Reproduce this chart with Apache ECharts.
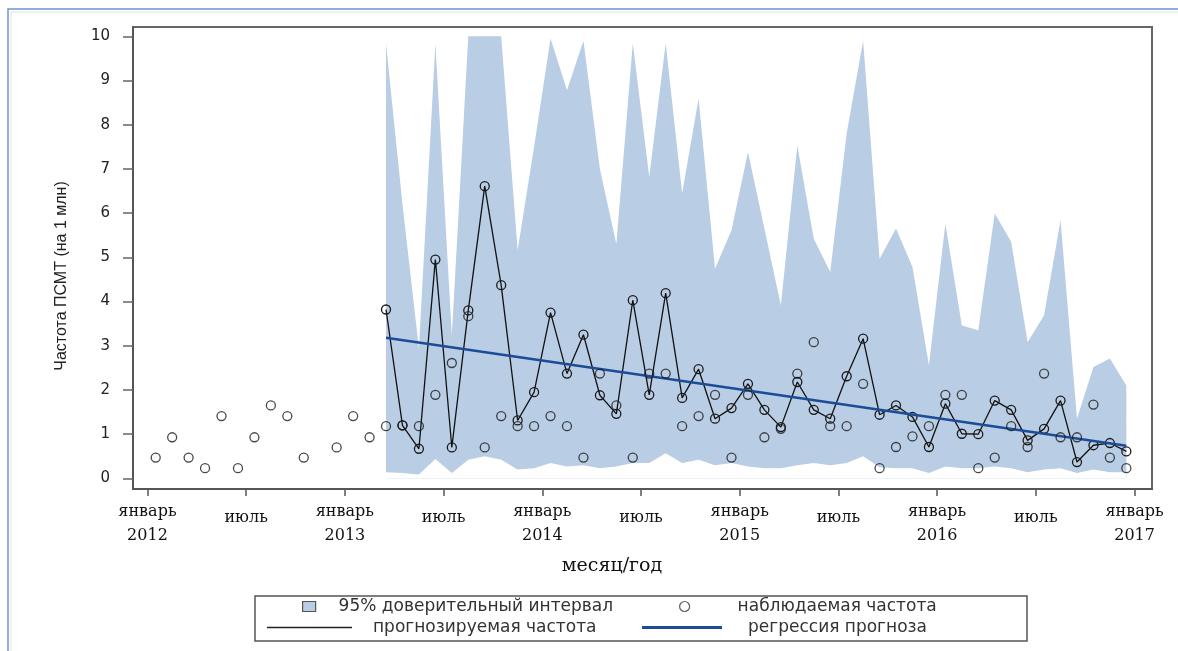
<!DOCTYPE html>
<html>
<head>
<meta charset="utf-8">
<script src="https://cdn.jsdelivr.net/npm/echarts@6/dist/echarts.min.js"></script>
<style>
  html, body { margin: 0; padding: 0; background: #fff; }
  #grafico { width: 1178px; height: 651px; }
</style>
</head>
<body>
<div id="grafico"></div>
<script>
// datos: indice = meses desde enero 2012, el punto va a mitad de mes
var observada = [0.47, 0.93, 0.47, 0.23, 1.41, 0.23, 0.93, 1.65, 1.41, 0.47, null, 0.70,
    1.41, 0.93, 1.18, 1.20, 1.18, 1.89, 2.61, 3.67, 0.70, 1.41, 1.18, 1.18,
    1.41, 1.18, 0.47, 2.37, 1.65, 0.47, 2.37, 2.37, 1.18, 1.41, 1.89, 0.47,
    1.89, 0.93, 1.12, 2.37, 3.08, 1.18, 1.18, 2.14, 0.23, 0.71, 0.95, 1.18,
    1.89, 1.89, 0.23, 0.47, 1.18, 0.71, 2.37, 0.93, 0.93, 1.67, 0.47, 0.23];

// pronostico desde el mes 14 (marzo 2013)
var inicioPronostico = 14;
var pronostico = [3.82, 1.20, 0.67, 4.95, 0.70, 3.80, 6.61, 4.37, 1.31, 1.95,
    3.75, 2.37, 3.25, 1.88, 1.46, 4.03, 1.89, 4.19, 1.82, 2.47,
    1.35, 1.59, 2.14, 1.55, 1.16, 2.18, 1.55, 1.35, 2.31, 3.16,
    1.44, 1.65, 1.39, 0.71, 1.69, 1.01, 1.00, 1.76, 1.55, 0.86,
    1.12, 1.76, 0.37, 0.75, 0.80, 0.61];
var limiteInferior = [0.14, 0.12, 0.09, 0.44, 0.12, 0.42, 0.50, 0.42, 0.20, 0.23,
    0.35, 0.27, 0.30, 0.23, 0.27, 0.35, 0.35, 0.57, 0.35, 0.42,
    0.30, 0.35, 0.27, 0.23, 0.23, 0.30, 0.35, 0.30, 0.35, 0.50,
    0.25, 0.23, 0.23, 0.12, 0.27, 0.23, 0.23, 0.27, 0.23, 0.14,
    0.20, 0.23, 0.12, 0.20, 0.14, 0.14];
var limiteSuperior = [9.83, 6.20, 2.94, 9.83, 3.24, 10.0, 10.0, 10.0, 5.16, 7.50,
    9.95, 8.78, 9.90, 7.00, 5.30, 9.84, 6.82, 9.84, 6.45, 8.59,
    4.74, 5.61, 7.38, 5.65, 3.91, 7.53, 5.42, 4.67, 7.80, 9.90,
    4.97, 5.65, 4.78, 2.56, 5.76, 3.46, 3.35, 5.99, 5.35, 3.08,
    3.69, 5.84, 1.35, 2.52, 2.71, 2.10];
// recta de regresion: valores en el primer y ultimo mes del pronostico
var regresion = [3.18, 0.74];

var marcasMes = [0, 6, 12, 18, 24, 30, 36, 42, 48, 54, 60];
var etiquetasMes = ['январь\n2012', 'июль', 'январь\n2013', 'июль', 'январь\n2014', 'июль',
    'январь\n2015', 'июль', 'январь\n2016', 'июль', 'январь\n2017'];
var marcasValor = [0, 1, 2, 3, 4, 5, 6, 7, 8, 9, 10];

var colorBanda = '#b9cde5';
var colorRegresion = '#1d4c97';

var datosObs = observada.map(function (v, i) { return [i + 0.5, v]; });
var datosPron = pronostico.map(function (v, i) { return [inicioPronostico + i + 0.5, v]; });
var datosInf = limiteInferior.map(function (v, i) { return [inicioPronostico + i + 0.5, v]; });
var datosSup = limiteSuperior.map(function (v, i) { return [inicioPronostico + i + 0.5, v]; });
var ultimoMes = inicioPronostico + pronostico.length - 1;
var datosReg = [[inicioPronostico + 0.5, regresion[0]], [ultimoMes + 0.5, regresion[1]]];

var dom = document.getElementById('grafico');
var myChart = echarts.init(dom, null, { renderer: 'canvas' });

var circulo = {
    color: 'rgba(0,0,0,0)',
    borderColor: '#1a1a1a',
    borderWidth: 1.3
};

var option = {
    backgroundColor: '#fff',
    animation: false,
    grid: {
        left: 133, right: 26, top: 27, bottom: 162,
        show: true,
        borderColor: '#666',
        borderWidth: 2
    },
    xAxis: {
        type: 'value',
        min: -0.88,
        max: 61.06,
        axisLine: { show: true, onZero: false, lineStyle: { color: '#555', width: 2 } },
        axisTick: { show: true, length: 7, customValues: marcasMes, lineStyle: { color: '#555', width: 1.5 } },
        splitLine: { show: false },
        axisLabel: {
            customValues: marcasMes,
            margin: 11,
            color: '#111',
            fontFamily: 'DejaVu Serif',
            fontSize: 16,
            lineHeight: 24,
            formatter: function (v) {
                var k = marcasMes.indexOf(Math.round(v));
                var t = etiquetasMes[k] || '';
                if (t.indexOf('\n') < 0) {
                    return '{j|' + t + '}';
                }
                return t;
            },
            rich: {
                j: {
                    fontFamily: 'DejaVu Serif',
                    fontSize: 16,
                    lineHeight: 24,
                    padding: [12, 0, 0, 0],
                    color: '#111'
                }
            }
        }
    },
    yAxis: {
        type: 'value',
        min: -0.24,
        max: 10.21,
        axisLine: { show: true, onZero: false, lineStyle: { color: '#555', width: 2 } },
        axisTick: { show: true, length: 10, customValues: marcasValor, lineStyle: { color: '#666', width: 1.5 } },
        splitLine: { show: false },
        axisLabel: {
            customValues: marcasValor,
            margin: 23,
            color: '#222',
            fontFamily: 'DejaVu Sans',
            fontSize: 15
        }
    },
    legend: [
        {
            left: 302, top: 598, padding: 0,
            selectedMode: false,
            itemWidth: 13, itemHeight: 10,
            textStyle: { fontFamily: 'DejaVu Sans', fontSize: 17, color: '#333', padding: [0, 0, 0, 18] },
            data: [{ name: '95% доверительный интервал', icon: 'rect',
                itemStyle: { color: colorBanda, borderColor: '#555', borderWidth: 1.2 } }]
        },
        {
            left: 679, top: 598, padding: 0,
            selectedMode: false,
            itemWidth: 10, itemHeight: 10,
            textStyle: { fontFamily: 'DejaVu Sans', fontSize: 17, color: '#333', padding: [0, 0, 0, 43] },
            data: [{ name: 'наблюдаемая частота', icon: 'circle',
                itemStyle: { color: 'rgba(0,0,0,0)', borderColor: '#333', borderWidth: 1.2 } }]
        },
        {
            left: 267, top: 619, padding: 0,
            selectedMode: false,
            itemWidth: 85, itemHeight: 1.5,
            textStyle: { fontFamily: 'DejaVu Sans', fontSize: 17, color: '#333', padding: [0, 0, 0, 16] },
            data: [{ name: 'прогнозируемая частота', icon: 'rect',
                itemStyle: { color: '#222', borderWidth: 0 } }]
        },
        {
            left: 642, top: 619, padding: 0,
            selectedMode: false,
            itemWidth: 80, itemHeight: 3,
            textStyle: { fontFamily: 'DejaVu Sans', fontSize: 17, color: '#333', padding: [0, 0, 0, 21] },
            data: [{ name: 'регрессия прогноза', icon: 'rect',
                itemStyle: { color: colorRegresion, borderWidth: 0 } }]
        }
    ],
    graphic: [
        {
            type: 'rect',
            shape: { x: 8, y: 9, width: 1200, height: 700 },
            style: { fill: 'none', stroke: '#6f95cc', lineWidth: 1.5 },
            silent: true
        },
        {
            type: 'rect',
            shape: { x: 11, y: 12, width: 1200, height: 700 },
            style: { fill: 'none', stroke: '#e2e2e2', lineWidth: 1 },
            silent: true
        },
        {
            type: 'rect',
            shape: { x: 255, y: 596, width: 772, height: 45 },
            style: { fill: 'none', stroke: '#555', lineWidth: 1.5 },
            silent: true
        },
        {
            type: 'text',
            x: 62, y: 276,
            rotation: Math.PI / 2,
            style: {
                text: 'Частота ПСМТ (на 1 млн)',
                fontFamily: 'Liberation Sans',
                fontSize: 16,
                fill: '#222',
                align: 'center',
                verticalAlign: 'middle'
            },
            silent: true
        },
        {
            type: 'text',
            x: 612, y: 566,
            style: {
                text: 'месяц/год',
                fontFamily: 'DejaVu Serif',
                fontSize: 19,
                fill: '#111',
                align: 'center',
                verticalAlign: 'middle'
            },
            silent: true
        }
    ],
    series: [
        {
            // limite superior: area azul hasta 0
            name: '95% доверительный интервал',
            type: 'line',
            data: datosSup,
            symbol: 'none',
            lineStyle: { width: 0, opacity: 0 },
            areaStyle: { color: colorBanda, opacity: 1 },
            itemStyle: { color: colorBanda },
            silent: true,
            z: 1
        },
        {
            // limite inferior: se tapa con blanco hasta 0
            name: 'inferior',
            type: 'line',
            data: datosInf,
            symbol: 'none',
            lineStyle: { width: 0, opacity: 0 },
            areaStyle: { color: '#fff', opacity: 1 },
            silent: true,
            z: 1
        },
        {
            name: 'прогнозируемая частота',
            type: 'line',
            data: datosPron,
            symbol: 'circle',
            symbolSize: 9,
            showAllSymbol: true,
            lineStyle: { color: '#111', width: 1.3 },
            itemStyle: circulo,
            z: 4
        },
        {
            name: 'регрессия прогноза',
            type: 'line',
            data: datosReg,
            symbol: 'none',
            lineStyle: { color: colorRegresion, width: 2.6 },
            itemStyle: { color: colorRegresion },
            z: 5
        },
        {
            name: 'наблюдаемая частота',
            type: 'scatter',
            data: datosObs,
            symbol: 'circle',
            symbolSize: 9,
            itemStyle: circulo,
            z: 6
        }
    ]
};

if (option && typeof option === 'object') {
    myChart.setOption(option);
}

window.addEventListener('resize', myChart.resize);
</script>
</body>
</html>
